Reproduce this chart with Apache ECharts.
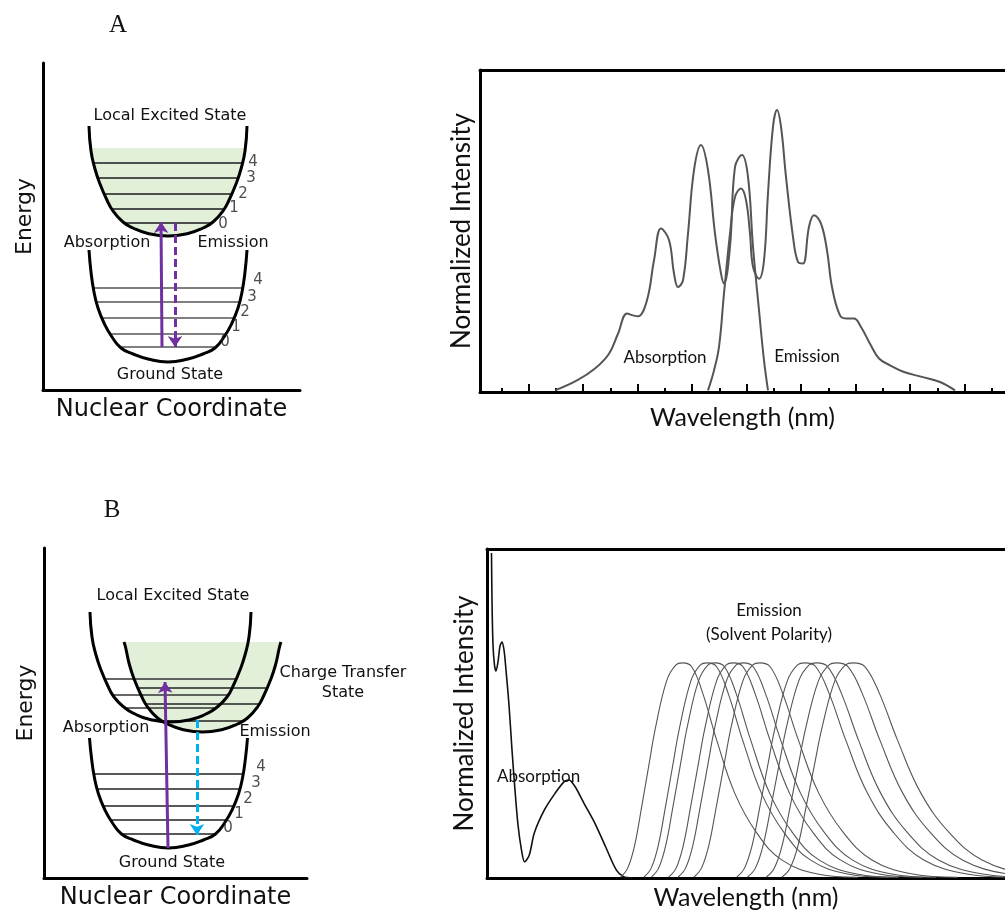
<!DOCTYPE html>
<html>
<head>
<meta charset="utf-8">
<script src="https://cdn.jsdelivr.net/npm/echarts@6/dist/echarts.min.js"></script>
<style>
  html, body { margin: 0; padding: 0; background: #fff; }
  #chart { width: 1005px; height: 919px; }
</style>
</head>
<body>
<div id="chart"></div>
<script>
// ---- panel A : diagram (nuclear coordinate vs energy, arbitrary units) ----
const upperA = [[46,264],[48,239],[52,221],[57,206],[63,192],[70,179],[80,168],[90,162],[105,156.5],[125,154],[145,156.5],[160,162],[170,168],[180,179],[187,192],[193,206],[198,221],[202,239],[204,264]]
const lowerA = [[46,140],[48,118],[51,98],[55,82],[61,67],[69,53],[78,42],[90,36],[105,31],[125,28],[145,31],[160,36],[172,42],[181,53],[189,67],[195,82],[199,98],[202,118],[204,140]]
// [energy, left, right]
const levelsUpperA = [[167,82,168],[181,69,181],[196,61,189],[212,55,195],[227,51,199]]
const levelsLowerA = [[43,77,173],[56,67,183],[72,60,190],[88,54,196],[102,51,199]]
const vibLabels = ['0', '1', '2', '3', '4']
const vibPosUpperA = [[180,166],[191,182],[200,196],[208,212],[210,228]]
const vibPosLowerA = [[182,48],[193,63],[202,78],[209,93],[215,110]]
const absArrowA = [[119,43],[118,168]]
const emArrowA = [[132,167],[132,43]]
const fillTopA = 242

// ---- panel A : spectra ----
const absA = [[75,0.5],[97,3.6],[115,7.3],[129,11.9],[138,18.1],[147,24.4],[153,23.8],[158,23.5],[167,28.5],[174,40.9],[181,50.8],[189,47.2],[194,36.8],[198,32.6],[203,34.7],[208,49.2],[214,68.9],[221,76.7],[228,68.9],[235,49.2],[241,36.8],[244,33.7],[250,45.1],[255,69.9],[262,73.6],[268,66.8],[273,45.1],[279,25.4],[284,9.8],[288,0.5]]
const emA = [[228,0.5],[234,6.7],[239,14],[244,30.6],[250,49.2],[255,60.6],[261,63.2],[266,59.6],[270,49.2],[273,38.9],[279,35.2],[284,40.9],[288,61.7],[293,82.4],[297,87.6],[301,82.4],[306,66.8],[313,48.2],[318,40.4],[323,39.9],[329,51.3],[334,54.9],[341,52.3],[347,44],[352,32.6],[360,23.8],[367,22.8],[374,22.8],[381,20.2],[390,15],[399,10.4],[410,8.3],[424,6.2],[442,4.7],[460,3.1],[475,0.5]]
const majorTicksA = [49,103,158,212,267,321,376,430,485]
const minorTicksA = [22,76,131,185,240,294,349,403,458,512]

// ---- panel B : diagram ----
const leB = [[46,266],[48,241],[52,223],[57,208],[63,194],[70,181],[81,170],[91,164],[106,158.5],[126.5,156],[147,158.5],[162,164],[172,170],[183,181],[190,194],[196,208],[201,223],[205,241],[207,266]]
const ctB = [[80,236],[81.5,231],[85.5,213],[90.5,198],[96.5,184],[103.5,171],[113.5,160],[123.5,154],[138.5,148.5],[158.5,146],[178.5,148.5],[193.5,154],[203.5,160],[213.5,171],[220.5,184],[226.5,198],[231.5,213],[235.5,231],[237,236]]
const gsB = [[45.5,140],[47.5,120],[50.5,100],[54.5,84],[60.5,69],[68.5,55],[77.5,44],[89.5,38],[104.5,33],[124.5,30],[144.5,33],[159.5,38],[171.5,44],[180.5,55],[188.5,69],[194.5,84],[198.5,100],[201.5,120],[203.5,140]]
const levelsLeB = [[170,81,172],[183,69,184],[199,62,191]]
const levelsCtB = [[157,118,199],[174,102,215],[190,94,223]]
const levelsGsB = [[44,78,171],[58,67,182],[72,60,189],[89,53,196],[104,51,198]]
const vibPosGsB = [[184,50],[195,64],[204,79],[212,95],[217,111]]
const absArrowB = [[124,30],[121,196]]
const emArrowB = [[153,158],[153,43]]
const fillTopB = 236

// ---- panel B : spectra ----
const absB = [[4.5,98.8],[5,84.5],[6,70.8],[7.5,64.7],[9,62.9],[11,65.7],[13,70.5],[15,71.7],[17,69.3],[19,63.2],[22,52.6],[25,38.9],[28,26.7],[31,16.1],[34.5,8.5],[37.6,4.9],[42.3,7],[47.3,13.7],[57.4,20.7],[68.2,25.8],[77.2,29.3],[81.9,29.8],[88,27.8],[97,22.7],[107.8,16.7],[118.6,9.5],[129.4,2.4],[136.6,0.4],[145,0]]
// one emission band: [offset from peak, intensity]
const emProfile = [[-62,0.3],[-55,3],[-48,10],[-41,21.7],[-34,34],[-27,46],[-16,60],[-7,64.7],[0,65.4],[9,64.2],[20,56.2],[34,41.9],[52,25.8],[74,13.7],[99,5.5],[135,1.2],[175,0.2]]
const emPeaksB = [195.7,220.3,228,246.3,256.3,273,318,329.7,349.7,366.3]
const emSpreadB = [1,1.04,1.05,1.08,1.1,1.13,1.2,1.23,1.27,1.3]

const purple = '#7030a0'
const blue = '#00b0f0'
const green = '#e2efd9'
const diagFont = 'DejaVu Sans'
const specFont = 'Lato'

const chart = echarts.init(document.getElementById('chart'))

const levelLines = (levels, xi, yi, color) => ({
  type: 'lines', coordinateSystem: 'cartesian2d', xAxisIndex: xi, yAxisIndex: yi,
  symbol: 'none', silent: true, z: 3,
  lineStyle: { color, width: 1.6, opacity: 1 },
  data: levels.map(l => ({ coords: [[l[1], l[0]], [l[2], l[0]]] }))
})
const curve = (data, xi, yi, width) => ({
  type: 'line', xAxisIndex: xi, yAxisIndex: yi, data, smooth: 0.5, symbol: 'none',
  lineStyle: { color: '#000', width }, z: 5, silent: true
})
const fill = (data, xi, yi, top) => ({
  type: 'line', xAxisIndex: xi, yAxisIndex: yi, data: data.filter(p => p[1] <= top + 3),
  smooth: 0.5, symbol: 'none', lineStyle: { width: 0 },
  areaStyle: { color: green, opacity: 1, origin: top }, z: 1, silent: true
})
const arrow = (coords, xi, yi, color, dashed) => ({
  type: 'lines', coordinateSystem: 'cartesian2d', xAxisIndex: xi, yAxisIndex: yi,
  symbol: ['none', 'arrow'], symbolSize: 11, z: 6, silent: true,
  lineStyle: { color, width: 3, opacity: 1, type: dashed ? [8, 4] : 'solid' },
  data: [{ coords }]
})
const vibNumbers = (pos, xi, yi) => ({
  type: 'scatter', xAxisIndex: xi, yAxisIndex: yi, symbolSize: 0, clip: false, z: 7,
  data: pos.map((p, i) => [p[0], p[1], vibLabels[i]]),
  label: { show: true, position: 'inside', formatter: p => p.value[2], color: '#222', fontSize: 15, fontFamily: diagFont }
})

const diagAxes = (gi, xmax, ymax) => ({
  x: {
    type: 'value', gridIndex: gi, min: 0, max: xmax, name: 'Nuclear Coordinate',
    nameLocation: 'middle', nameGap: 8,
    nameTextStyle: { fontFamily: diagFont, fontSize: 24, color: '#111', verticalAlign: 'top' },
    axisLine: { show: true, onZero: false, lineStyle: { color: '#000', width: 3 } },
    axisTick: { show: false }, axisLabel: { show: false }, splitLine: { show: false }
  },
  y: {
    type: 'value', gridIndex: gi, min: 0, max: ymax, name: 'Energy',
    nameLocation: 'middle', nameGap: 7, nameRotate: 90,
    nameTextStyle: { fontFamily: diagFont, fontSize: 22, color: '#111', padding: [0, 0, 0, 20] },
    axisLine: { show: true, onZero: false, lineStyle: { color: '#000', width: 3 } },
    axisTick: { show: false }, axisLabel: { show: false }, splitLine: { show: false }
  }
})
const dA = diagAxes(0, 257, 327)
const dB = diagAxes(2, 263, 330)

const frameLine = { show: true, onZero: false, lineStyle: { color: '#000', width: 3 } }
const specX = (gi, max, opts) => Object.assign({
  type: 'value', gridIndex: gi, min: 0, max, position: 'bottom',
  axisLine: { show: false }, axisTick: { show: false },
  axisLabel: { show: false }, splitLine: { show: false }
}, opts)
const specName = (gap) => ({
  name: 'Wavelength (nm)', nameLocation: 'middle', nameGap: gap,
  nameTextStyle: { fontFamily: specFont, fontSize: 25, color: '#111', verticalAlign: 'top' }
})
const ticks = (values, len) => ({ show: true, inside: true, length: len, customValues: values, lineStyle: { color: '#000', width: 2 } })
const specY = (gi, gap) => ({
  type: 'value', gridIndex: gi, min: 0, max: 100, name: 'Normalized Intensity',
  nameLocation: 'middle', nameGap: gap, nameRotate: 90,
  nameTextStyle: { fontFamily: specFont, fontSize: 26, color: '#111' },
  axisLine: frameLine, axisTick: { show: false }, axisLabel: { show: false }, splitLine: { show: false }
})

const txt = (x, y, text, size, font, extra) => ({
  type: 'text', x, y, silent: true,
  style: Object.assign({ text, fontSize: size, fontFamily: font, fill: '#111', align: 'center', verticalAlign: 'middle' }, extra || {})
})

const emSeriesB = emPeaksB.map((pk, i) => ({
  type: 'line', xAxisIndex: 5, yAxisIndex: 3, symbol: 'none', smooth: 0.4, silent: true,
  lineStyle: { color: '#555', width: 1.1 },
  data: emProfile.map(([dx, y]) => [pk + dx * (dx > 0 ? emSpreadB[i] : 1 + (emSpreadB[i] - 1) / 2), y])
}))

chart.setOption({
  animation: false,
  backgroundColor: '#fff',
  grid: [
    { left: 43, top: 63, width: 257, height: 327 },
    { left: 480, top: 70, right: 0, height: 322 },
    { left: 44, top: 548, width: 263, height: 330 },
    { left: 487, top: 549, right: 0, height: 329 }
  ],
  xAxis: [
    dA.x,
    specX(1, 525, Object.assign({ axisLine: frameLine, axisTick: ticks(majorTicksA, 8) }, specName(13))),
    specX(1, 525, { axisTick: ticks(minorTicksA, 4) }),
    specX(1, 525, { position: 'top', axisLine: frameLine }),
    dB.x,
    specX(3, 518, Object.assign({ axisLine: frameLine }, specName(7))),
    specX(3, 518, { position: 'top', axisLine: frameLine })
  ],
  yAxis: [dA.y, specY(1, 5), dB.y, specY(3, 9)],
  series: [
    // panel A diagram
    fill(upperA, 0, 0, fillTopA),
    levelLines(levelsUpperA, 0, 0, '#1a1a1a'),
    levelLines(levelsLowerA, 0, 0, '#555'),
    curve(upperA, 0, 0, 3),
    curve(lowerA, 0, 0, 3),
    vibNumbers(vibPosUpperA, 0, 0),
    vibNumbers(vibPosLowerA, 0, 0),
    arrow(absArrowA, 0, 0, purple, false),
    arrow(emArrowA, 0, 0, purple, true),
    // panel A spectra
    { type: 'line', xAxisIndex: 1, yAxisIndex: 1, data: absA, smooth: 0.4, symbol: 'none', silent: true, lineStyle: { color: '#555', width: 2 } },
    { type: 'line', xAxisIndex: 1, yAxisIndex: 1, data: emA, smooth: 0.4, symbol: 'none', silent: true, lineStyle: { color: '#555', width: 2 } },
    // panel B diagram
    fill(ctB, 4, 2, fillTopB),
    levelLines(levelsLeB, 4, 2, '#333'),
    levelLines(levelsCtB, 4, 2, '#222'),
    levelLines(levelsGsB, 4, 2, '#222'),
    curve(leB, 4, 2, 3),
    curve(ctB, 4, 2, 3),
    curve(gsB, 4, 2, 3),
    vibNumbers(vibPosGsB, 4, 2),
    arrow(absArrowB, 4, 2, purple, false),
    arrow(emArrowB, 4, 2, blue, true),
    // panel B spectra
    { type: 'line', xAxisIndex: 5, yAxisIndex: 3, data: absB, smooth: 0.3, symbol: 'none', silent: true, lineStyle: { color: '#111', width: 1.6 } },
    ...emSeriesB
  ],
  graphic: [
    txt(118, 25, 'A', 25, 'Liberation Serif'),
    txt(170, 116, 'Local Excited State', 16, diagFont),
    txt(107, 243, 'Absorption', 16, diagFont),
    txt(233, 243, 'Emission', 16, diagFont),
    txt(170, 375, 'Ground State', 16, diagFont),
    txt(665, 358, 'Absorption', 17, specFont),
    txt(807, 357, 'Emission', 17, specFont),
    txt(112, 510, 'B', 25, 'Liberation Serif'),
    txt(173, 596, 'Local Excited State', 16, diagFont),
    txt(343, 673, 'Charge Transfer', 16, diagFont),
    txt(343, 693, 'State', 16, diagFont),
    txt(106, 728, 'Absorption', 16, diagFont),
    txt(275, 732, 'Emission', 16, diagFont),
    txt(172, 863, 'Ground State', 16, diagFont),
    txt(769, 611, 'Emission', 17, specFont),
    txt(769, 635, '(Solvent Polarity)', 17, specFont),
    txt(497, 777, 'Absorption', 17, specFont, { align: 'left' })
  ]
})
</script>
</body>
</html>
